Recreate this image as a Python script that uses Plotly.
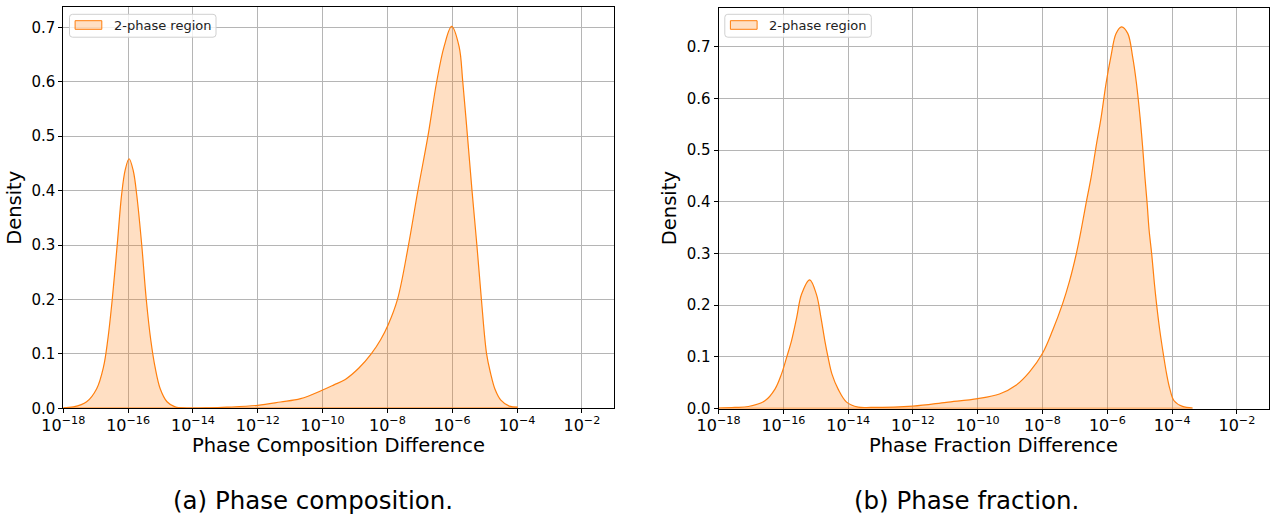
import numpy as np
import plotly.graph_objects as go

W, H = 1272, 520

# KDE curves, x given as log10 of the difference, y = density
comp_log10 = [-18.0, -17.69, -17.28, -16.97, -16.76, -16.63, -16.49, -16.33, -16.2, -16.09,
              -15.97, -15.84, -15.73, -15.58, -15.44, -15.30, -15.17, -15.01, -14.80, -14.55,
              -14.19, -13.5, -12.95, -12.0, -11.30, -10.68, -10.0, -9.65, -9.3, -8.88,
              -8.50, -8.21, -7.98, -7.69, -7.35, -7.06, -6.75, -6.48, -6.25,
              -6.02, -5.79, -5.675, -5.53, -5.39, -5.24, -5.10, -4.94, -4.82,
              -4.68, -4.50, -4.24, -3.98]
comp_density = [0.001, 0.0025, 0.012, 0.036, 0.076, 0.125, 0.20, 0.305, 0.393, 0.438,
                0.4585, 0.436, 0.39, 0.30, 0.20, 0.125, 0.076, 0.036, 0.012, 0.0025,
                0.0005, 0.0008, 0.002, 0.0055, 0.0116, 0.0177, 0.0335, 0.043, 0.053, 0.074,
                0.100, 0.126, 0.153, 0.20, 0.30, 0.40, 0.50, 0.60, 0.665,
                0.7017, 0.665, 0.60, 0.50, 0.40, 0.30, 0.20, 0.10, 0.065,
                0.035, 0.015, 0.004, 0.002]

frac_log10 = [-18.0, -17.5, -17.08, -16.57, -16.26, -16.06, -15.90, -15.75, -15.59, -15.44,
              -15.19, -14.98, -14.84, -14.72, -14.62, -14.50, -14.31, -14.05, -13.69, -13.3,
              -12.0, -10.97, -10.0, -9.33, -8.82, -8.40, -8.0, -7.69, -7.38, -7.17,
              -6.96, -6.81, -6.66, -6.50, -6.35, -6.19, -6.04, -5.89, -5.73, -5.56,
              -5.37, -5.22, -5.10, -4.99, -4.91, -4.84, -4.77, -4.71, -4.63, -4.55,
              -4.48, -4.38, -4.27, -4.17, -4.07, -3.94, -3.68, -3.37]
frac_density = [0.001, 0.002, 0.0039, 0.0149, 0.0375, 0.0665, 0.099, 0.131, 0.176, 0.221,
                0.249, 0.221, 0.176, 0.131, 0.099, 0.0665, 0.0375, 0.0124, 0.0027, 0.002,
                0.0045, 0.012, 0.019, 0.028, 0.045, 0.071, 0.107, 0.151, 0.203, 0.246,
                0.299, 0.345, 0.396, 0.448, 0.506, 0.564, 0.629, 0.681, 0.726, 0.7388,
                0.726, 0.681, 0.629, 0.564, 0.506, 0.448, 0.396, 0.345, 0.299, 0.244,
                0.202, 0.151, 0.105, 0.067, 0.038, 0.015, 0.004, 0.001]

x_tick_exponents = [-18, -16, -14, -12, -10, -8, -6, -4, -2]
y_ticks = [0.0, 0.1, 0.2, 0.3, 0.4, 0.5, 0.6, 0.7]

series_label = "2-phase region"
x_titles = ["Phase Composition Difference", "Phase Fraction Difference"]
captions = ["(a) Phase composition.", "(b) Phase fraction."]

ORANGE = "#ff7f0e"
FILL = "rgba(255,127,14,0.25)"
GRID = "#b5b5b5"
FONT = "DejaVu Sans"


def px_x(p):
    return p / W


def px_y(p):
    return (H - p) / H


# plot-area boxes in pixels: (left, right, top, bottom)
boxes = [(63.3, 614.3, 7.3, 408.3), (718.6, 1269.3, 7.7, 408.5)]

fig = go.Figure()

curves = [(comp_log10, comp_density), (frac_log10, frac_density)]
for i, (lx, dens) in enumerate(curves):
    xa = "x" if i == 0 else "x2"
    ya = "y" if i == 0 else "y2"
    xs = np.power(10.0, np.array(lx))
    fig.add_trace(go.Scatter(
        x=xs, y=dens, mode="lines", fill="tozeroy", fillcolor=FILL,
        line=dict(color=ORANGE, width=1.2, shape="spline", smoothing=1.0),
        xaxis=xa, yaxis=ya, showlegend=False, hoverinfo="skip"))
    # lower edge of the filled region
    fig.add_trace(go.Scatter(
        x=[xs[0], xs[-1]], y=[0, 0], mode="lines",
        line=dict(color=ORANGE, width=1.5),
        xaxis=xa, yaxis=ya, showlegend=False, hoverinfo="skip"))

tickvals = [10.0 ** e for e in x_tick_exponents]
ticktext = ["10<sup>\u2212%d</sup>" % (-e) for e in x_tick_exponents]

axis_common = dict(
    showline=True, linecolor="black", linewidth=1, mirror=True,
    showgrid=True, gridcolor=GRID, gridwidth=1,
    ticks="outside", ticklen=4, tickwidth=1, tickcolor="black",
    zeroline=False, automargin=False,
)

layout_axes = {}
for i, (l, r, t, b) in enumerate(boxes):
    sx = "xaxis" if i == 0 else "xaxis2"
    sy = "yaxis" if i == 0 else "yaxis2"
    ymax = max(curves[i][1]) * 1.05
    layout_axes[sx] = dict(
        axis_common, type="log", range=[-18, -1],
        domain=[px_x(l), px_x(r)],
        anchor="y" if i == 0 else "y2",
        tickvals=tickvals, ticktext=ticktext, ticklabelstandoff=-2,
        tickfont=dict(family=FONT, size=16, color="black"),
    )
    layout_axes[sy] = dict(
        axis_common, range=[0, ymax],
        domain=[px_y(b), px_y(t)],
        anchor="x" if i == 0 else "x2",
        tickvals=y_ticks, tickformat=".1f",
        tickfont=dict(family=FONT, size=15, color="black"),
        title=dict(text="Density", font=dict(family=FONT, size=19.5, color="black"), standoff=4),
    )

shapes = []
annotations = []


def rounded_rect(x0, y0, x1, y1, r):
    # pixel coordinates -> paper path with rounded corners
    rx, ry = r / W, r / H
    X0, X1 = px_x(x0), px_x(x1)
    Y0, Y1 = px_y(y1), px_y(y0)
    return (f"M{X0 + rx},{Y0} L{X1 - rx},{Y0} Q{X1},{Y0} {X1},{Y0 + ry} "
            f"L{X1},{Y1 - ry} Q{X1},{Y1} {X1 - rx},{Y1} L{X0 + rx},{Y1} "
            f"Q{X0},{Y1} {X0},{Y1 - ry} L{X0},{Y0 + ry} Q{X0},{Y0} {X0 + rx},{Y0} Z")


for i, (l, r, t, b) in enumerate(boxes):
    bx0 = l + 6.2
    shapes.append(dict(type="path", xref="paper", yref="paper",
                       path=rounded_rect(bx0, 14.3, bx0 + 146.5, 37.2, 3),
                       fillcolor="rgba(255,255,255,0.8)", line=dict(color="#d0d0d0", width=1),
                       layer="above"))
    shapes.append(dict(type="rect", xref="paper", yref="paper",
                       x0=px_x(bx0 + 5.6), x1=px_x(bx0 + 32.3),
                       y0=px_y(29.3), y1=px_y(20.7),
                       fillcolor=FILL, line=dict(color=ORANGE, width=1), layer="above"))
    annotations.append(dict(text=series_label, xref="paper", yref="paper",
                            x=px_x(bx0 + 42.6), y=px_y(25.3), xanchor="left", yanchor="middle",
                            showarrow=False, font=dict(family=FONT, size=13, color="#222222")))
    # x-axis title, centred under the plot area
    annotations.append(dict(text=x_titles[i], xref="paper", yref="paper",
                            x=px_x((l + r) / 2), y=px_y(445), xanchor="center", yanchor="middle",
                            showarrow=False, font=dict(family=FONT, size=19.5, color="black")))

caption_centers = [312.9, 966.0]
for cx, cap in zip(caption_centers, captions):
    annotations.append(dict(text=cap, xref="paper", yref="paper",
                            x=px_x(cx), y=px_y(500), xanchor="center", yanchor="middle",
                            showarrow=False, font=dict(family=FONT, size=24.5, color="black")))

fig.update_layout(
    width=W, height=H, autosize=False,
    margin=dict(l=0, r=0, t=0, b=0),
    paper_bgcolor="white", plot_bgcolor="white",
    showlegend=False,
    shapes=shapes, annotations=annotations,
    **layout_axes,
)

fig.write_html("out.html")
